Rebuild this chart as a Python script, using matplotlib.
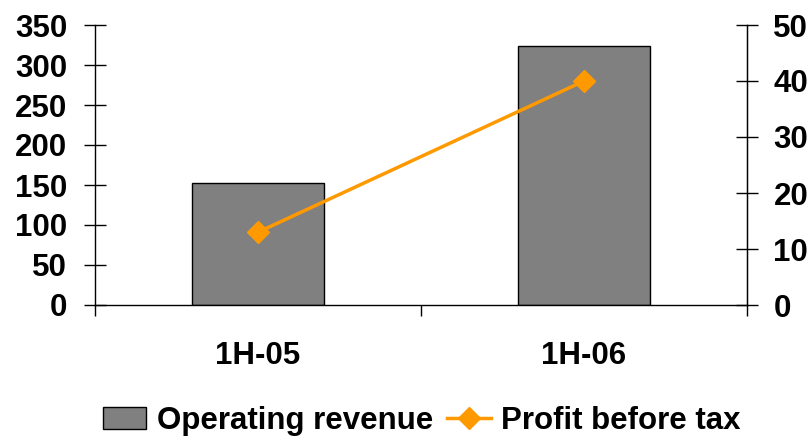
import matplotlib
matplotlib.use("Agg")
import matplotlib.pyplot as plt
from matplotlib.ticker import FixedLocator

categories = ["1H-05", "1H-06"]
operating_revenue = [152.5, 324]
profit_before_tax = [13, 40]
left_ticks = [0, 50, 100, 150, 200, 250, 300, 350]
right_ticks = [0, 10, 20, 30, 40, 50]

plt.rcParams['font.family'] = ['Liberation Sans', 'DejaVu Sans']
plt.rcParams['font.weight'] = 'bold'
FS = 22.5

W, H = 811, 438
fig = plt.figure(figsize=(W/100, H/100), dpi=100)
ax = fig.add_axes([95/W, (H-305)/H, 652/W, 280/H])
x = list(range(len(categories)))
bars = ax.bar(x, operating_revenue, width=0.405, color='#808080', edgecolor='black', linewidth=1, label='Operating revenue', zorder=2)
ax.set_xlim(-0.5, 1.5)
ax.set_ylim(0, 350)
ax.set_yticks(left_ticks)
ax.set_yticklabels([str(t) for t in left_ticks], fontsize=FS, fontweight='bold')
ax.set_xticks(x)
ax.set_xticklabels(categories, fontsize=FS, fontweight='bold')
ax.xaxis.set_minor_locator(FixedLocator([-0.5, 0.5, 1.5]))
ax.tick_params(axis='x', which='major', length=0, pad=26)
ax.tick_params(axis='x', which='minor', length=8, direction='out', width=1)
ax.tick_params(axis='y', length=16, direction='inout', width=1, pad=12)
ax.spines['top'].set_visible(False)
for s in ax.spines.values():
    s.set_linewidth(1)

ax2 = ax.twinx()
line, = ax2.plot(x, profit_before_tax, color='#FF9900', linewidth=2.5, marker='D', markersize=11, label='Profit before tax', zorder=3)
ax2.set_ylim(0, 50)
ax2.set_yticks(right_ticks)
ax2.set_yticklabels([str(t) for t in right_ticks], fontsize=FS, fontweight='bold')
ax2.tick_params(axis='y', length=16, direction='inout', width=1, pad=11)
ax2.spines['top'].set_visible(False)
ax2.spines['left'].set_visible(False)
ax2.spines['bottom'].set_visible(False)

fig.legend([bars, line], ['Operating revenue', 'Profit before tax'], loc='center', bbox_to_anchor=(422/W, 1-421/H),
           ncol=2, frameon=False, handlelength=1.38, handletextpad=0.35, columnspacing=0.45,
           borderpad=0, prop={'weight': 'bold', 'size': FS})

fig.savefig('out.png', dpi=100)
